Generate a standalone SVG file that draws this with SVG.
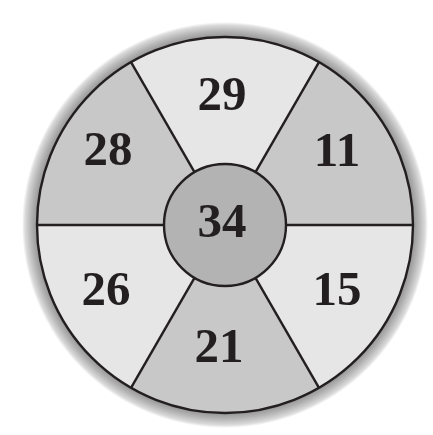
<svg xmlns="http://www.w3.org/2000/svg" width="433" height="435" viewBox="0 0 433 435">
  <style>
    .light { fill: #e6e6e6; }
    .dark { fill: #c8c8c8; }
    .edge { stroke: #231f20; stroke-width: 2.4; fill: none; }
    .num { font-family: "Liberation Serif", "Times New Roman", serif; font-weight: bold; font-size: 49px; fill: #231f20; text-anchor: middle; }
  </style>
  <defs>
    <radialGradient id="halo" gradientUnits="userSpaceOnUse" cx="225" cy="225" r="203">
      <stop offset="0.92" stop-color="#8e8e8e"/>
      <stop offset="0.955" stop-color="#b4b4b4"/>
      <stop offset="0.985" stop-color="#dadada"/>
      <stop offset="1" stop-color="#ffffff"/>
    </radialGradient>
  </defs>
  <rect width="433" height="435" fill="#ffffff"/>
  <circle cx="225" cy="225" r="203" fill="url(#halo)"/>

  <g id="sector-11">
    <path class="dark" d="M225,225 L413,225 A188,188 0 0 0 319,62.19 Z"/>
    <text class="num" x="337" y="166">11</text>
  </g>
  <g id="sector-29">
    <path class="light" d="M225,225 L319,62.19 A188,188 0 0 0 131,62.19 Z"/>
    <text class="num" x="222" y="110">29</text>
  </g>
  <g id="sector-28">
    <path class="dark" d="M225,225 L131,62.19 A188,188 0 0 0 37,225 Z"/>
    <text class="num" x="108" y="165">28</text>
  </g>
  <g id="sector-26">
    <path class="light" d="M225,225 L37,225 A188,188 0 0 0 131,387.81 Z"/>
    <text class="num" x="106" y="305">26</text>
  </g>
  <g id="sector-21">
    <path class="dark" d="M225,225 L131,387.81 A188,188 0 0 0 319,387.81 Z"/>
    <text class="num" x="219" y="362">21</text>
  </g>
  <g id="sector-15">
    <path class="light" d="M225,225 L319,387.81 A188,188 0 0 0 413,225 Z"/>
    <text class="num" x="337" y="305">15</text>
  </g>

  <g id="connectors">
    <circle class="edge" cx="225" cy="225" r="188"/>
    <line class="edge" x1="286" y1="225" x2="413" y2="225"/>
    <line class="edge" x1="164" y1="225" x2="37" y2="225"/>
    <line class="edge" x1="255.5" y1="172.2" x2="319" y2="62.19"/>
    <line class="edge" x1="194.5" y1="172.2" x2="131" y2="62.19"/>
    <line class="edge" x1="194.5" y1="277.8" x2="131" y2="387.81"/>
    <line class="edge" x1="255.5" y1="277.8" x2="319" y2="387.81"/>
  </g>

  <g id="center-34">
    <circle cx="225" cy="225" r="61" fill="#b3b3b3" stroke="#231f20" stroke-width="2.4"/>
    <text class="num" x="222" y="237">34</text>
  </g>
</svg>
